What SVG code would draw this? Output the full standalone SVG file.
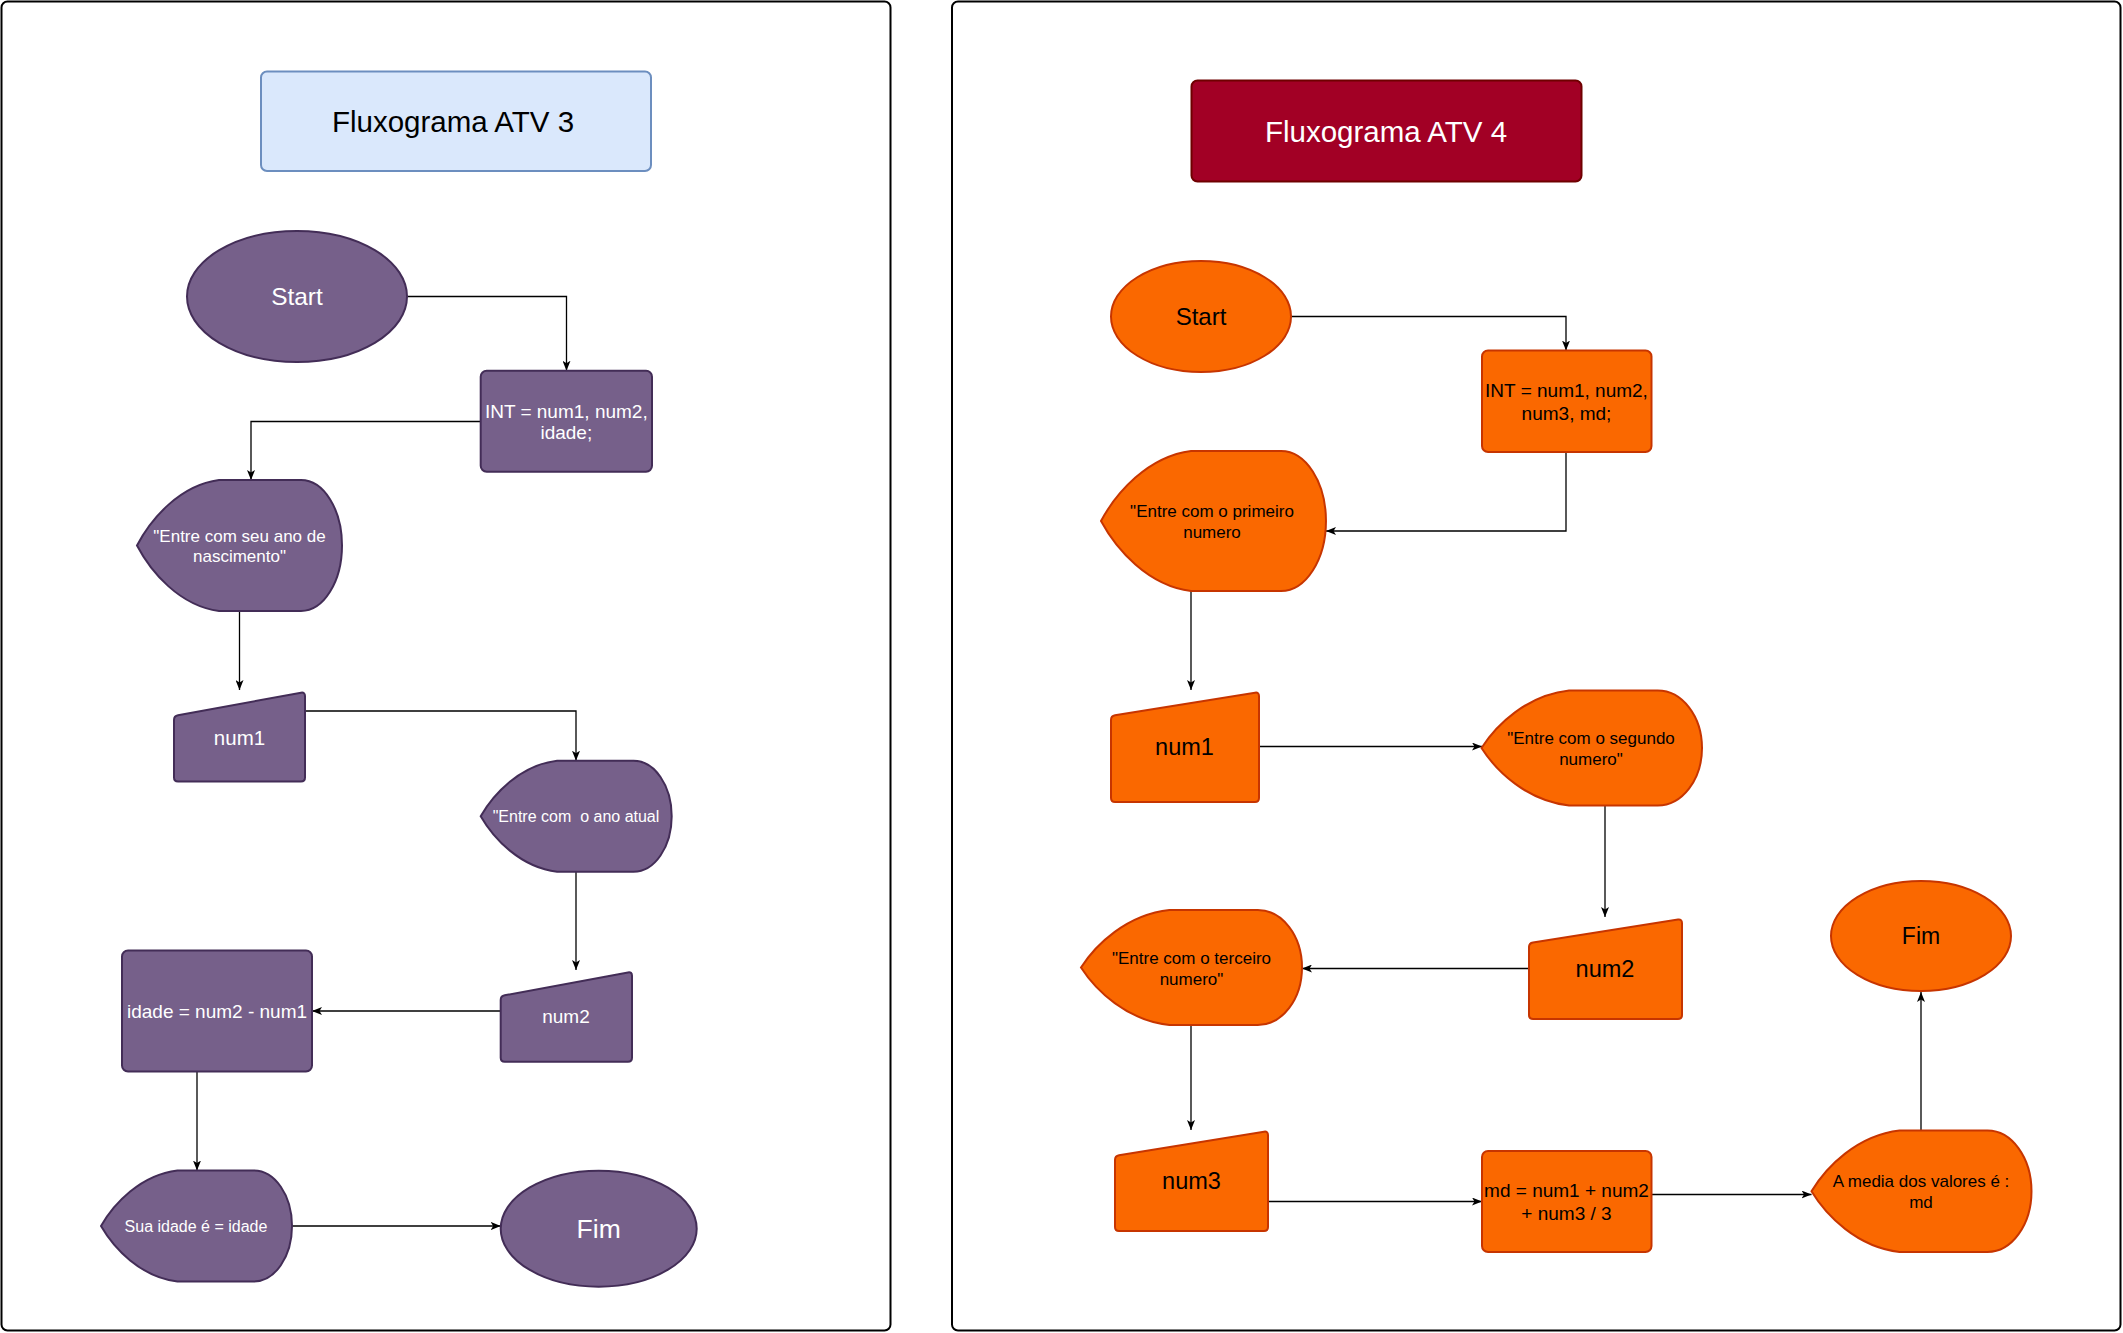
<svg xmlns="http://www.w3.org/2000/svg" width="2123" height="1333" viewBox="0 0 2123 1333">
<style>
text{font-family:"Liberation Sans",Arial,Helvetica,sans-serif;text-anchor:middle;dominant-baseline:central}
.panel{fill:#ffffff;stroke:#000000;stroke-width:2}
.pu{fill:#76608a;stroke:#432d57;stroke-width:2}
.pu-t{fill:#ffffff}
.or{fill:#fa6800;stroke:#c73500;stroke-width:2}
.or-t{fill:#000000}
.conn{fill:none;stroke:#000000;stroke-width:1.3}
</style>
<defs>
<marker id="arr" viewBox="0 0 10 8" refX="10" refY="4" markerWidth="10" markerHeight="8" orient="auto" markerUnits="userSpaceOnUse">
<path d="M0,0 L10,4 L0,8 L2.5,4 Z" fill="#000000"/>
</marker>
</defs>
<rect width="2123" height="1333" fill="#ffffff"/>
<g id="panel-left"><rect class="panel" x="1.5" y="1.5" width="889" height="1329" rx="6"/></g>
<g id="panel-right"><rect class="panel" x="952" y="1.5" width="1168.5" height="1329" rx="6"/></g>

<g id="connectors">
<path class="conn" marker-end="url(#arr)" d="M407,296.5 L566.5,296.5 L566.5,370.7"/>
<path class="conn" marker-end="url(#arr)" d="M480.7,421.5 L251,421.5 L251,480"/>
<path class="conn" marker-end="url(#arr)" d="M239.5,611 L239.5,690"/>
<path class="conn" marker-end="url(#arr)" d="M305,711 L576,711 L576,760.7"/>
<path class="conn" marker-end="url(#arr)" d="M576,871.7 L576,970"/>
<path class="conn" marker-end="url(#arr)" d="M500.7,1011 L312,1011"/>
<path class="conn" marker-end="url(#arr)" d="M197,1071.5 L197,1170.5"/>
<path class="conn" marker-end="url(#arr)" d="M292,1226 L500.7,1226"/>

<path class="conn" marker-end="url(#arr)" d="M1291,316.5 L1566,316.5 L1566,350.5"/>
<path class="conn" marker-end="url(#arr)" d="M1566,452 L1566,531 L1326,531"/>
<path class="conn" marker-end="url(#arr)" d="M1191,591 L1191,690"/>
<path class="conn" marker-end="url(#arr)" d="M1258,746.5 L1482,746.5"/>
<path class="conn" marker-end="url(#arr)" d="M1605,805.5 L1605,917"/>
<path class="conn" marker-end="url(#arr)" d="M1529,968.5 L1302,968.5"/>
<path class="conn" marker-end="url(#arr)" d="M1191,1025 L1191,1130"/>
<path class="conn" marker-end="url(#arr)" d="M1268,1201.5 L1482,1201.5"/>
<path class="conn" marker-end="url(#arr)" d="M1651.5,1194.5 L1811.5,1194.5"/>
<path class="conn" marker-end="url(#arr)" d="M1921,1130.5 L1921,992"/>
</g>

<g id="title-atv3">
<rect x="261" y="71.5" width="390" height="99.5" rx="6" fill="#dae8fc" stroke="#6c8ebf" stroke-width="2"/>
<text x="453" y="121.5" font-size="29.5" fill="#000000">Fluxograma ATV 3</text>
</g>
<g id="l-start">
<ellipse class="pu" cx="297" cy="296.5" rx="110" ry="65.5"/>
<text class="pu-t" x="297" y="296.5" font-size="24.4">Start</text>
</g>
<g id="l-int">
<rect class="pu" x="480.7" y="370.7" width="171.3" height="101" rx="6"/>
<text class="pu-t" font-size="19"><tspan x="566.3" y="410.5">INT = num1, num2,</tspan><tspan x="566.3" y="432">idade;</tspan></text>
</g>
<g id="l-display-nasc">
<path class="pu" d="M137,545.5 C150.7,519.3 179.4,485.2 219,480 L301,480 A41,65.5 0 0 1 301,611 L219,611 C179.4,605.8 150.7,571.7 137,545.5 Z"/>
<text class="pu-t" font-size="17"><tspan x="239.5" y="535.5">"Entre com seu ano de</tspan><tspan x="239.5" y="556">nascimento"</tspan></text>
</g>
<g id="l-num1">
<path class="pu" d="M174,720 Q174,716 178,715.3 L301,692.7 Q305,692 305,696 L305,777.5 Q305,781.5 301,781.5 L178,781.5 Q174,781.5 174,777.5 Z"/>
<text class="pu-t" x="239.5" y="737" font-size="20.5">num1</text>
</g>
<g id="l-display-atual">
<path class="pu" d="M480.7,816.2 C493.5,794 520.2,765.1 557.1,760.7 L633.5,760.7 A38.2,55.5 0 0 1 633.5,871.7 L557.1,871.7 C520.2,867.3 493.5,838.4 480.7,816.2 Z"/>
<text class="pu-t" x="576" y="816.2" font-size="16" xml:space="preserve">"Entre com  o ano atual</text>
</g>
<g id="l-num2">
<path class="pu" d="M500.7,1000 Q500.7,996 504.7,995.3 L628,972.4 Q632,971.7 632,975.7 L632,1057.7 Q632,1061.7 628,1061.7 L504.7,1061.7 Q500.7,1061.7 500.7,1057.7 Z"/>
<text class="pu-t" x="566" y="1016" font-size="19">num2</text>
</g>
<g id="l-idade">
<rect class="pu" x="122" y="950.5" width="190" height="121" rx="6"/>
<text class="pu-t" x="217" y="1011" font-size="19">idade = num2 - num1</text>
</g>
<g id="l-display-sua">
<path class="pu" d="M101,1226 C113.8,1203.8 140.5,1174.9 177.4,1170.5 L253.8,1170.5 A38.2,55.5 0 0 1 253.8,1281.5 L177.4,1281.5 C140.5,1277.1 113.8,1248.2 101,1226 Z"/>
<text class="pu-t" x="196" y="1226" font-size="16">Sua idade é = idade</text>
</g>
<g id="l-fim">
<ellipse class="pu" cx="598.7" cy="1228.7" rx="98" ry="58"/>
<text class="pu-t" x="598.7" y="1228.7" font-size="26.5">Fim</text>
</g>

<g id="title-atv4">
<rect x="1191.5" y="80.5" width="390" height="101" rx="6" fill="#a20025" stroke="#6f0000" stroke-width="2"/>
<text x="1386" y="131" font-size="29.5" fill="#ffffff">Fluxograma ATV 4</text>
</g>
<g id="r-start">
<ellipse class="or" cx="1201" cy="316.5" rx="90" ry="55.5"/>
<text class="or-t" x="1201" y="316.5" font-size="24">Start</text>
</g>
<g id="r-int">
<rect class="or" x="1482" y="350.5" width="169.5" height="101.5" rx="6"/>
<text class="or-t" font-size="19"><tspan x="1566.5" y="390">INT = num1, num2,</tspan><tspan x="1566.5" y="412.5">num3, md;</tspan></text>
</g>
<g id="r-display-primeiro">
<path class="or" d="M1101,521 C1116.1,493 1147.6,456.6 1191,451 L1281,451 A45,70 0 0 1 1281,591 L1191,591 C1147.6,585.4 1116.1,549 1101,521 Z"/>
<text class="or-t" font-size="17"><tspan x="1212" y="511">"Entre com o primeiro</tspan><tspan x="1212" y="531.5">numero</tspan></text>
</g>
<g id="r-num1">
<path class="or" d="M1111,720 Q1111,716 1115,715.3 L1255,692.7 Q1259,692 1259,696 L1259,798 Q1259,802 1255,802 L1115,802 Q1111,802 1111,798 Z"/>
<text class="or-t" x="1184.5" y="746.5" font-size="23.5">num1</text>
</g>
<g id="r-display-segundo">
<path class="or" d="M1481.5,748 C1496.2,725 1526.8,695.1 1569.1,690.5 L1657.7,690.5 A44.3,57.5 0 0 1 1657.7,805.5 L1569.1,805.5 C1526.8,800.9 1496.2,771 1481.5,748 Z"/>
<text class="or-t" font-size="17"><tspan x="1591" y="737.5">"Entre com o segundo</tspan><tspan x="1591" y="758.5">numero"</tspan></text>
</g>
<g id="r-num2">
<path class="or" d="M1529,947 Q1529,943 1533,942.4 L1678,919.6 Q1682,919 1682,923 L1682,1015 Q1682,1019 1678,1019 L1533,1019 Q1529,1019 1529,1015 Z"/>
<text class="or-t" x="1605" y="968.5" font-size="23.5">num2</text>
</g>
<g id="r-display-terceiro">
<path class="or" d="M1081,967.5 C1095.8,944.5 1126.7,914.6 1169.4,910 L1257.8,910 A44.2,57.5 0 0 1 1257.8,1025 L1169.4,1025 C1126.7,1020.4 1095.8,990.5 1081,967.5 Z"/>
<text class="or-t" font-size="17"><tspan x="1191.5" y="957.5">"Entre com o terceiro</tspan><tspan x="1191.5" y="978.5">numero"</tspan></text>
</g>
<g id="r-num3">
<path class="or" d="M1115,1160 Q1115,1156 1119,1155.3 L1264,1131.7 Q1268,1131 1268,1135 L1268,1227 Q1268,1231 1264,1231 L1119,1231 Q1115,1231 1115,1227 Z"/>
<text class="or-t" x="1191.5" y="1181" font-size="23.5">num3</text>
</g>
<g id="r-md">
<rect class="or" x="1482" y="1151" width="169.5" height="101" rx="6"/>
<text class="or-t" font-size="19"><tspan x="1566.5" y="1190">md = num1 + num2</tspan><tspan x="1566.5" y="1212.5">+ num3 / 3</tspan></text>
</g>
<g id="r-display-media">
<path class="or" d="M1811.5,1191.25 C1826.2,1166.95 1857,1135.4 1899.5,1130.5 L1987.5,1130.5 A44,60.75 0 0 1 1987.5,1252 L1899.5,1252 C1857,1247.1 1826.2,1215.5 1811.5,1191.25 Z"/>
<text class="or-t" font-size="17"><tspan x="1921" y="1181">A media dos valores é :</tspan><tspan x="1921" y="1201.7">md</tspan></text>
</g>
<g id="r-fim">
<ellipse class="or" cx="1921" cy="936" rx="90" ry="55"/>
<text class="or-t" x="1921" y="936" font-size="23">Fim</text>
</g>
</svg>
